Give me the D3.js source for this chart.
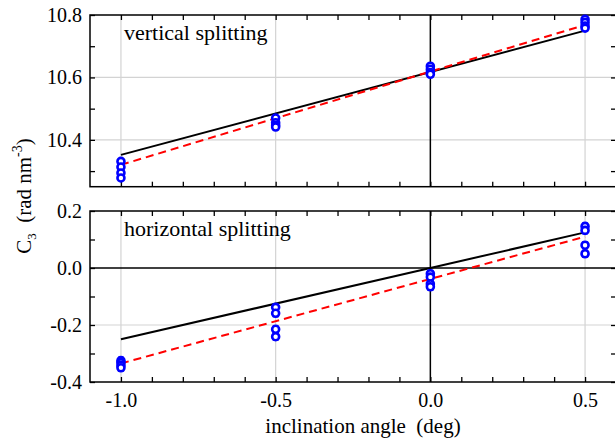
<!DOCTYPE html>
<html>
<head>
<meta charset="utf-8">
<script src="https://cdn.jsdelivr.net/npm/d3@7"></script>
<style>
  body { margin: 0; background: #fff; }
  svg { display: block; font-family: "Liberation Serif", "Times New Roman", serif; }
</style>
</head>
<body>
<svg id="chart" width="615" height="442"></svg>
<script>
// inclination angles (deg)
var angles = [-1.0, -0.5, 0.0, 0.5];

// measured C3, vertical splitting (several runs per angle)
var vertPoints = [
  [-1.0, 10.331], [-1.0, 10.313], [-1.0, 10.294], [-1.0, 10.278],
  [-0.5, 10.470], [-0.5, 10.455], [-0.5, 10.447], [-0.5, 10.441],
  [0.0, 10.636], [0.0, 10.626], [0.0, 10.616], [0.0, 10.610],
  [0.5, 10.786], [0.5, 10.776], [0.5, 10.765], [0.5, 10.758]
];
// measured C3, horizontal splitting
var horizPoints = [
  [-1.0, -0.325], [-1.0, -0.332], [-1.0, -0.341], [-1.0, -0.350],
  [-0.5, -0.138], [-0.5, -0.159], [-0.5, -0.215], [-0.5, -0.241],
  [0.0, -0.020], [0.0, -0.032], [0.0, -0.056], [0.0, -0.066],
  [0.5, 0.146], [0.5, 0.132], [0.5, 0.080], [0.5, 0.050]
];
var vertErr = 0.006, horizErr = 0.012;

// model (black) and fit (red dashed) lines, end points
var vertModel = [[-1.0, 10.352], [0.5, 10.750]];
var vertFit = [[-1.0, 10.320], [0.5, 10.768]];
var horizModel = [[-1.0, -0.250], [0.5, 0.125]];
var horizFit = [[-1.0, -0.335], [0.5, 0.110]];

var xTicks = d3.range(-1.0, 0.55, 0.1).map(function(v) { return +v.toFixed(1); });
var xMajor = [-1.0, -0.5, 0.0, 0.5];
var vertTicks = [10.3, 10.4, 10.5, 10.6, 10.7, 10.8];
var vertMajor = [10.4, 10.6, 10.8];
var horizTicks = [-0.4, -0.3, -0.2, -0.1, 0.0, 0.1, 0.2];
var horizMajor = [-0.4, -0.2, 0.0, 0.2];

var svg = d3.select("#chart");
var left = 90, right = 616;

var x = d3.scaleLinear().domain([-1.1, 0.6]).range([left, right]);

function isMajor(list, v) {
  return list.some(function(m) { return Math.abs(m - v) < 1e-6; });
}

function panel(cfg) {
  var y = d3.scaleLinear().domain(cfg.domain).range([cfg.bottom, cfg.top]);
  var g = svg.append("g");

  // grid
  g.selectAll(".gx").data(xMajor.filter(function(v) { return v !== 0; }))
    .enter().append("line")
    .attr("x1", function(d) { return x(d); }).attr("x2", function(d) { return x(d); })
    .attr("y1", cfg.top).attr("y2", cfg.bottom)
    .attr("stroke", "#d3d3d3").attr("stroke-width", 1.2);
  g.selectAll(".gy").data(cfg.major.filter(function(v) { return v !== 0 && v !== cfg.domain[0] && v !== cfg.domain[1]; }))
    .enter().append("line")
    .attr("x1", left).attr("x2", right)
    .attr("y1", function(d) { return y(d); }).attr("y2", function(d) { return y(d); })
    .attr("stroke", "#d3d3d3").attr("stroke-width", 1.2);

  // zero lines
  g.append("line")
    .attr("x1", x(0)).attr("x2", x(0)).attr("y1", cfg.top).attr("y2", cfg.bottom)
    .attr("stroke", "#000").attr("stroke-width", 1.5);
  if (cfg.domain[0] < 0 && cfg.domain[1] > 0) {
    g.append("line")
      .attr("x1", left).attr("x2", right).attr("y1", y(0)).attr("y2", y(0))
      .attr("stroke", "#000").attr("stroke-width", 1.5);
  }

  // axes, ticks inward
  var fmtX = function(d) { return isMajor(xMajor, d) ? d.toFixed(1) : ""; };
  var fmtY = function(d) { return isMajor(cfg.major, d) ? d.toFixed(1) : ""; };

  var axB = g.append("g").attr("transform", "translate(0," + cfg.bottom + ")")
    .call(d3.axisBottom(x).tickValues(xTicks).tickSizeInner(-5).tickSizeOuter(0)
      .tickPadding(11).tickFormat(cfg.labelsX ? fmtX : function() { return ""; }));
  var axT = g.append("g").attr("transform", "translate(0," + cfg.top + ")")
    .call(d3.axisTop(x).tickValues(xTicks).tickSizeInner(-5).tickSizeOuter(0).tickFormat(""));
  var axL = g.append("g").attr("transform", "translate(" + left + ",0)")
    .call(d3.axisLeft(y).tickValues(cfg.ticks).tickSizeInner(-5).tickSizeOuter(0)
      .tickPadding(8).tickFormat(fmtY));
  var axR = g.append("g").attr("transform", "translate(" + right + ",0)")
    .call(d3.axisRight(y).tickValues(cfg.ticks).tickSizeInner(-5).tickSizeOuter(0).tickFormat(""));

  [axB, axT, axL, axR].forEach(function(a) {
    a.attr("font-family", null);
    a.select(".domain").remove();
    a.selectAll("line").attr("stroke", "#000").attr("stroke-width", 1.3);
    a.selectAll("text").attr("fill", "#000").style("font-size", "20px")
      .style("font-family", "'Liberation Serif', 'Times New Roman', serif");
  });

  // frame
  g.append("rect")
    .attr("x", left).attr("y", cfg.top)
    .attr("width", right - left).attr("height", cfg.bottom - cfg.top)
    .attr("fill", "none").attr("stroke", "#000").attr("stroke-width", 1.5);

  var line = d3.line().x(function(d) { return x(d[0]); }).y(function(d) { return y(d[1]); });

  g.append("path").datum(cfg.model).attr("d", line)
    .attr("fill", "none").attr("stroke", "#000").attr("stroke-width", 2);
  g.append("path").datum(cfg.fit).attr("d", line)
    .attr("fill", "none").attr("stroke", "#ff0000").attr("stroke-width", 2)
    .attr("stroke-dasharray", "8,5");

  // error bars
  var eb = g.selectAll(".eb").data(cfg.points).enter().append("g");
  eb.append("line")
    .attr("x1", function(d) { return x(d[0]); }).attr("x2", function(d) { return x(d[0]); })
    .attr("y1", function(d) { return y(d[1] - cfg.err); })
    .attr("y2", function(d) { return y(d[1] + cfg.err); })
    .attr("stroke", "#0000ff").attr("stroke-width", 1.5);
  [-1, 1].forEach(function(s) {
    eb.append("line")
      .attr("x1", function(d) { return x(d[0]) - 3; }).attr("x2", function(d) { return x(d[0]) + 3; })
      .attr("y1", function(d) { return y(d[1] + s * cfg.err); })
      .attr("y2", function(d) { return y(d[1] + s * cfg.err); })
      .attr("stroke", "#0000ff").attr("stroke-width", 1.2);
  });

  g.selectAll(".pt").data(cfg.points).enter().append("circle")
    .attr("cx", function(d) { return x(d[0]); })
    .attr("cy", function(d) { return y(d[1]); })
    .attr("r", 3.5)
    .attr("fill", "#fff").attr("stroke", "#0000ff").attr("stroke-width", 2.6);

  g.append("text")
    .attr("x", 124).attr("y", cfg.top + 25)
    .style("font-size", "22px").attr("fill", "#000")
    .text(cfg.title);
}

panel({
  domain: [10.25, 10.8], top: 15, bottom: 186.7,
  ticks: vertTicks, major: vertMajor,
  points: vertPoints, err: vertErr,
  model: vertModel, fit: vertFit,
  title: "vertical splitting", labelsX: false
});

panel({
  domain: [-0.4, 0.2], top: 211, bottom: 382,
  ticks: horizTicks, major: horizMajor,
  points: horizPoints, err: horizErr,
  model: horizModel, fit: horizFit,
  title: "horizontal splitting", labelsX: true
});

// axis titles
svg.append("text")
  .attr("x", 363).attr("y", 433)
  .attr("text-anchor", "middle")
  .style("font-size", "21px")
  .style("white-space", "pre")
  .text("inclination angle  (deg)");

var yl = svg.append("text")
  .attr("transform", "translate(31,196) rotate(-90)")
  .attr("text-anchor", "middle")
  .style("font-size", "21px")
  .style("white-space", "pre");
yl.append("tspan").text("C");
yl.append("tspan").attr("dy", 5).style("font-size", "13px").text("3");
yl.append("tspan").attr("dy", -5).text("  (rad nm");
yl.append("tspan").attr("dy", -9).style("font-size", "14px").text("-3");
yl.append("tspan").attr("dy", 9).text(")");
</script>
</body>
</html>
